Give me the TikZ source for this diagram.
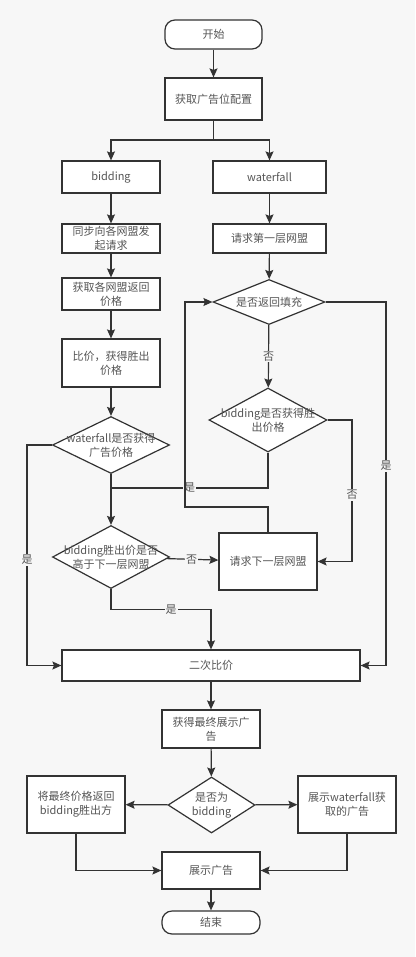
\documentclass[tikz,border=0pt]{standalone}
\usepackage{fontspec}
\newfontfamily\cjk{Noto Sans CJK SC}
\usetikzlibrary{shapes.geometric,arrows.meta}
\definecolor{bg}{HTML}{F7F7F7}
\definecolor{ln}{HTML}{333333}
\definecolor{tx}{HTML}{555555}
\begin{document}
\begin{tikzpicture}[
          x=1pt, y=-1pt,
          txt/.style={text=tx, font=\cjk\fontsize{11}{14}\selectfont, align=center},
          box/.style={draw=ln, line width=1.2pt, fill=white, inner sep=0pt, txt},
          term/.style={box, rounded corners=10pt},
          dec/.style={diamond, draw=ln, line width=1.2pt, fill=white, inner sep=0pt},
          lbl/.style={fill=bg, inner sep=1pt, txt},
          arr/.style={draw=ln, line width=1.2pt, -{Stealth[length=9pt, width=8pt, inset=1.5pt]}},
          ln/.style={draw=ln, line width=1.2pt}
        ]
        \fill[bg] (0,0) rectangle (415,957);
        \node[term, minimum width=97pt, minimum height=29pt] (start) at (213.5,34.5) {开始};
        \node[box, minimum width=97pt, minimum height=42pt] (cfg) at (213.5,99) {获取广告位配置};
        \node[box, minimum width=98pt, minimum height=32pt] (bid) at (111,177) {bidding};
        \node[box, minimum width=113pt, minimum height=32pt] (wf) at (269.5,177) {waterfall};
        \node[box, minimum width=98pt, minimum height=29pt] (sync) at (111,238.5) {同步向各网盟发\\起请求};
        \node[box, minimum width=113pt, minimum height=29pt] (first) at (269.5,238.5) {请求第一层网盟};
        \node[box, minimum width=98pt, minimum height=32pt] (price) at (111,294) {获取各网盟返回\\价格};
        \node[dec, minimum width=112pt, minimum height=45pt,
              label={[txt]center:是否返回填充}] (fill) at (269,302) {};
        \node[box, minimum width=98pt, minimum height=48pt] (cmp) at (111,363) {比价，获得胜出\\价格};
        \node[dec, minimum width=118pt, minimum height=64pt,
              label={[txt]center:bidding是否获得胜\\出价格}] (win) at (268,420) {};
        \node[dec, minimum width=117pt, minimum height=57pt,
              label={[txt]center:waterfall是否获得\\广告价格}] (wfp) at (111,445) {};
        \node[dec, minimum width=117pt, minimum height=63pt,
              label={[txt]center:bidding胜出价是否\\高于下一层网盟}] (higher) at (111,557) {};
        \node[box, minimum width=98pt, minimum height=57pt] (next) at (268,561.5) {请求下一层网盟};
        \node[box, minimum width=298pt, minimum height=31pt] (second) at (211,665.5) {二次比价};
        \node[box, minimum width=98pt, minimum height=38pt] (final) at (211,729) {获得最终展示广\\告};
        \node[dec, minimum width=87pt, minimum height=56pt,
              label={[txt]center:是否为\\bidding}] (isbid) at (211.5,805) {};
        \node[box, minimum width=98pt, minimum height=57pt] (ret) at (76,804.5) {将最终价格返回\\bidding胜出方};
        \node[box, minimum width=98pt, minimum height=57pt] (showwf) at (347,804.5) {展示waterfall获\\取的广告};
        \node[box, minimum width=98pt, minimum height=37pt] (show) at (211,870.5) {展示广告};
        \node[term, minimum width=98pt, minimum height=23pt] (end) at (211,922.5) {结束};
        \coordinate (split) at (213.5,140);
        \coordinate (join) at (111,488);
        \draw[arr] (start) -- (cfg);
        \draw[ln] (cfg) -- (split);
        \draw[arr] (split) -| (bid);
        \draw[arr] (split) -| (wf);
        \draw[arr] (bid) -- (sync);
        \draw[arr] (wf) -- (first);
        \draw[arr] (sync) -- (price);
        \draw[arr] (first) -- (fill);
        \draw[arr] (price) -- (cmp);
        \draw[arr] (cmp) -- (wfp);
        \draw[arr] (fill) -- node[lbl] {否} (win);
        \draw[arr] (fill.east) -| (386,466) node[lbl] {是} |- (second.east);
        \draw[arr] (win.east) -| (352,495) node[lbl] {否} |- (next.east);
        \draw[ln] (win.south) |- node[lbl, pos=0.75] {是} (join);
        \draw[arr] (wfp) -- (higher);
        \draw[arr] (next.north) |- (185,507) |- (fill.west);
        \draw[arr] (higher) -- node[lbl, pos=0.48] {否} (next);
        \draw[arr] (higher.south) -- ++(0,20) -| node[lbl, pos=0.3] {是} (second.north);
        \draw[arr] (wfp.west) -| (27,560) node[lbl] {是} |- (second.west);
        \draw[arr] (second.south -| final) -- (final);
        \draw[arr] (final) -- (isbid);
        \draw[arr] (isbid) -- (ret);
        \draw[arr] (isbid) -- (showwf);
        \draw[arr] (ret.south) |- (show.west);
        \draw[arr] (showwf.south) |- (show.east);
        \draw[arr] (show) -- (end);
        \end{tikzpicture}
\end{document}
